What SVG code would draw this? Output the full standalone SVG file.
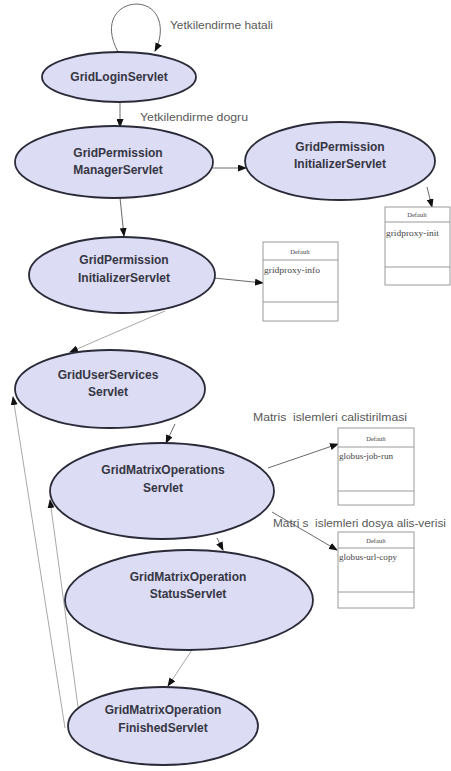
<svg xmlns="http://www.w3.org/2000/svg" width="451" height="771" viewBox="0 0 451 771">
  <defs>
    <marker id="arrow" markerUnits="userSpaceOnUse" markerWidth="9" markerHeight="7" refX="8" refY="3.5" orient="auto">
      <path d="M0,0 L9,3.5 L0,7 z" fill="#111"/>
    </marker>
    <style>
      .node ellipse { fill: #dcdcf5; stroke: #2a2a38; stroke-width: 1.8; }
      .node text { font-family: "Liberation Sans", Arial, sans-serif; font-weight: bold; font-size: 12px; fill: #363642; text-anchor: middle; }
      .edge { fill: none; stroke: #6a6a6a; stroke-width: 1; marker-end: url(#arrow); }
      .edge.light { stroke: #a8a8a8; }
      .lbl { font-family: "Liberation Sans", Arial, sans-serif; font-size: 10.5px; fill: #585858; white-space: pre; }
      .box rect { fill: #fff; stroke: #9a9a9a; stroke-width: 1; }
      .box line { stroke: #9a9a9a; stroke-width: 1; }
      .box text { font-family: "Liberation Serif", "Times New Roman", serif; font-size: 7.5px; fill: #444; }
      .box .hdr { text-anchor: middle; font-size: 6.5px; }
    </style>
  </defs>
  <rect width="451" height="771" fill="#fff"/>

  <!-- connectors -->
  <g id="edges">
    <path class="edge" d="M118,52 C102,22 118,4 137,4 C160,5 166,30 155,51"/>
    <line class="edge" x1="120" y1="103" x2="120" y2="127"/>
    <line class="edge" x1="213" y1="168" x2="246" y2="168"/>
    <line class="edge" x1="427" y1="187" x2="432" y2="207"/>
    <line class="edge" x1="120" y1="198" x2="124" y2="236"/>
    <line class="edge" x1="214" y1="278" x2="263" y2="283"/>
    <line class="edge light" x1="165" y1="311" x2="70" y2="352"/>
    <line class="edge" x1="175" y1="424" x2="166" y2="443"/>
    <line class="edge" x1="268" y1="468" x2="338" y2="444"/>
    <line class="edge" x1="272" y1="512" x2="337" y2="550"/>
    <line class="edge" x1="217" y1="538" x2="223" y2="550"/>
    <line class="edge light" x1="192" y1="650" x2="168" y2="686"/>
    <line class="edge light" x1="65" y1="728" x2="13" y2="397"/>
    <line class="edge light" x1="78" y1="707" x2="50" y2="500"/>

    <text class="lbl" x="170" y="29" textLength="103" lengthAdjust="spacingAndGlyphs">Yetkilendirme hatali</text>
    <text class="lbl" x="140" y="121" textLength="108" lengthAdjust="spacingAndGlyphs">Yetkilendirme dogru</text>
    <text class="lbl" x="253" y="421" textLength="154" lengthAdjust="spacingAndGlyphs">Matris  islemleri calistirilmasi</text>
    <text class="lbl" x="273" y="527" textLength="173" lengthAdjust="spacingAndGlyphs">Matri s  islemleri dosya alis-verisi</text>
  </g>

  <!-- servlet nodes -->
  <g id="gridLogin" class="node">
    <ellipse cx="119" cy="77" rx="77" ry="25"/>
    <text x="119" y="81">GridLoginServlet</text>
  </g>
  <g id="gridPermissionManager" class="node">
    <ellipse cx="114" cy="162" rx="99" ry="36"/>
    <text x="118" y="157">GridPermission</text>
    <text x="118" y="174">ManagerServlet</text>
  </g>
  <g id="gridPermissionInitializerRight" class="node">
    <ellipse cx="340" cy="161" rx="95" ry="39"/>
    <text x="340" y="151">GridPermission</text>
    <text x="340" y="168">InitializerServlet</text>
  </g>
  <g id="gridPermissionInitializerLeft" class="node">
    <ellipse cx="122" cy="275" rx="93" ry="38"/>
    <text x="124" y="264">GridPermission</text>
    <text x="124" y="282">InitializerServlet</text>
  </g>
  <g id="gridUserServices" class="node">
    <ellipse cx="110" cy="389" rx="95" ry="39"/>
    <text x="108" y="379">GridUserServices</text>
    <text x="108" y="396">Servlet</text>
  </g>
  <g id="gridMatrixOperations" class="node">
    <ellipse cx="162" cy="491" rx="112" ry="48"/>
    <text x="163" y="474">GridMatrixOperations</text>
    <text x="163" y="492">Servlet</text>
  </g>
  <g id="gridMatrixOperationStatus" class="node">
    <ellipse cx="189" cy="600" rx="124" ry="50"/>
    <text x="188" y="581">GridMatrixOperation</text>
    <text x="188" y="598">StatusServlet</text>
  </g>
  <g id="gridMatrixOperationFinished" class="node">
    <ellipse cx="163" cy="726" rx="95" ry="39"/>
    <text x="163" y="714">GridMatrixOperation</text>
    <text x="163" y="732">FinishedServlet</text>
  </g>

  <!-- command boxes -->
  <g id="boxProxyInit" class="box">
    <rect x="385" y="207" width="65" height="78"/>
    <line x1="385" y1="222" x2="450" y2="222"/>
    <line x1="385" y1="267" x2="450" y2="267"/>
    <text class="hdr" x="417" y="217">Default</text>
    <text x="386" y="236" textLength="53" lengthAdjust="spacingAndGlyphs">gridproxy-init</text>
  </g>
  <g id="boxProxyInfo" class="box">
    <rect x="263" y="242" width="75" height="79"/>
    <line x1="263" y1="260" x2="338" y2="260"/>
    <line x1="263" y1="302" x2="338" y2="302"/>
    <text class="hdr" x="300" y="254">Default</text>
    <text x="264" y="273" textLength="56" lengthAdjust="spacingAndGlyphs">gridproxy-info</text>
  </g>
  <g id="boxJobRun" class="box">
    <rect x="338" y="428" width="76" height="77"/>
    <line x1="338" y1="447" x2="414" y2="447"/>
    <line x1="338" y1="491" x2="414" y2="491"/>
    <text class="hdr" x="376" y="441">Default</text>
    <text x="339" y="459" textLength="54" lengthAdjust="spacingAndGlyphs">globus-job-run</text>
  </g>
  <g id="boxUrlCopy" class="box">
    <rect x="338" y="532" width="76" height="76"/>
    <line x1="338" y1="548" x2="414" y2="548"/>
    <line x1="338" y1="592" x2="414" y2="592"/>
    <text class="hdr" x="376" y="543">Default</text>
    <text x="339" y="560" textLength="58" lengthAdjust="spacingAndGlyphs">globus-url-copy</text>
  </g>
</svg>
